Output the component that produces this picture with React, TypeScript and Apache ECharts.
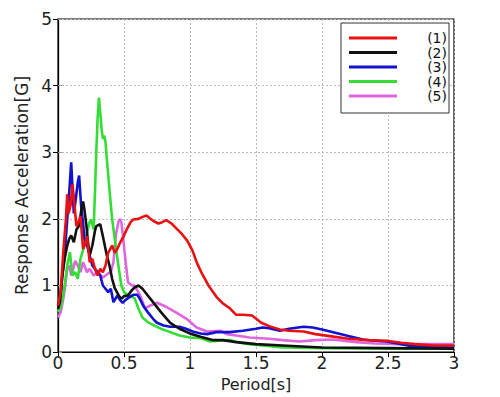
import React, { useEffect, useRef } from "react";
import * as echarts from "echarts";

const seriesNames = ["(1)", "(2)", "(3)", "(4)", "(5)"];
const seriesColors = ["#e81010", "#111111", "#1212d0", "#33dd33", "#e066e0"];

const xTicks = { min: 0, max: 3, interval: 0.5 };
const yTicks = { min: 0, max: 5, interval: 1 };

const s1: number[][] = [[0,0.7],[0.02,0.9],[0.04,1.5],[0.06,2.0],[0.07,2.37],[0.08,2.08],[0.095,2.2],[0.11,2.52],[0.125,2.2],[0.14,1.89],[0.155,1.95],[0.17,2.04],[0.19,1.55],[0.21,1.65],[0.22,1.74],[0.24,1.35],[0.26,1.4],[0.28,1.25],[0.3,1.15],[0.32,1.25],[0.34,1.2],[0.36,1.3],[0.38,1.49],[0.41,1.6],[0.43,1.49],[0.45,1.55],[0.47,1.64],[0.5,1.75],[0.52,1.84],[0.55,1.95],[0.57,1.99],[0.61,2.0],[0.64,2.03],[0.67,2.05],[0.7,2.0],[0.73,1.96],[0.76,1.93],[0.79,1.95],[0.82,1.98],[0.86,1.93],[0.9,1.85],[0.94,1.77],[0.98,1.67],[1.02,1.52],[1.05,1.35],[1.09,1.18],[1.14,1.0],[1.2,0.83],[1.25,0.73],[1.3,0.66],[1.35,0.56],[1.4,0.56],[1.47,0.55],[1.54,0.44],[1.6,0.39],[1.68,0.34],[1.75,0.32],[1.86,0.31],[1.95,0.27],[2.06,0.24],[2.2,0.2],[2.35,0.18],[2.49,0.17],[2.6,0.14],[2.7,0.12],[2.85,0.1],[3.0,0.1]];
const s2: number[][] = [[0,0.65],[0.015,0.75],[0.03,1.1],[0.05,1.4],[0.07,1.6],[0.085,1.7],[0.1,1.75],[0.12,1.65],[0.14,1.84],[0.16,1.9],[0.18,2.18],[0.19,2.26],[0.2,2.14],[0.215,1.9],[0.23,1.6],[0.24,1.45],[0.26,1.6],[0.28,1.82],[0.29,1.89],[0.32,1.92],[0.34,1.74],[0.37,1.45],[0.39,1.3],[0.41,1.1],[0.43,0.96],[0.46,0.85],[0.48,0.8],[0.5,0.84],[0.53,0.85],[0.56,0.93],[0.58,0.97],[0.61,1.0],[0.64,0.95],[0.68,0.85],[0.72,0.75],[0.78,0.6],[0.85,0.44],[0.92,0.35],[1.01,0.27],[1.08,0.23],[1.17,0.18],[1.25,0.18],[1.35,0.15],[1.5,0.12],[1.7,0.1],[2.0,0.07],[2.5,0.06],[3.0,0.05]];
const s3: number[][] = [[0,0.7],[0.02,0.85],[0.035,1.2],[0.05,1.45],[0.07,2.0],[0.085,2.4],[0.1,2.85],[0.11,2.45],[0.12,2.08],[0.135,2.3],[0.15,2.55],[0.16,2.65],[0.175,2.2],[0.19,1.93],[0.2,1.7],[0.22,1.6],[0.24,1.45],[0.26,1.3],[0.28,1.25],[0.3,1.2],[0.32,1.15],[0.34,1.0],[0.36,0.95],[0.38,0.9],[0.4,0.95],[0.42,0.75],[0.45,0.85],[0.47,0.78],[0.49,0.74],[0.51,0.78],[0.53,0.81],[0.57,0.86],[0.6,0.86],[0.62,0.8],[0.65,0.68],[0.68,0.6],[0.72,0.5],[0.75,0.44],[0.8,0.4],[0.85,0.38],[0.92,0.38],[0.97,0.35],[1.02,0.31],[1.08,0.28],[1.13,0.27],[1.2,0.3],[1.3,0.3],[1.4,0.32],[1.5,0.35],[1.55,0.37],[1.6,0.36],[1.68,0.32],[1.75,0.35],[1.86,0.38],[1.93,0.37],[2.0,0.34],[2.1,0.29],[2.2,0.24],[2.31,0.19],[2.4,0.17],[2.49,0.16],[2.6,0.12],[2.67,0.09],[2.8,0.08],[3.0,0.07]];
const s4: number[][] = [[0,0.6],[0.02,0.68],[0.035,0.8],[0.05,1.0],[0.07,1.3],[0.09,1.5],[0.11,1.15],[0.13,1.2],[0.15,1.1],[0.17,1.4],[0.2,1.6],[0.22,1.8],[0.24,1.95],[0.25,1.99],[0.27,1.84],[0.28,2.4],[0.29,3.0],[0.3,3.5],[0.31,3.82],[0.32,3.6],[0.33,3.35],[0.34,3.2],[0.35,3.25],[0.36,3.15],[0.37,2.9],[0.39,2.43],[0.41,2.0],[0.43,1.7],[0.45,1.4],[0.48,1.0],[0.5,0.9],[0.53,0.86],[0.58,0.81],[0.61,0.65],[0.64,0.52],[0.68,0.45],[0.72,0.41],[0.78,0.35],[0.85,0.3],[0.92,0.25],[1.0,0.22],[1.08,0.21],[1.15,0.16],[1.22,0.17],[1.3,0.18],[1.38,0.14],[1.45,0.12],[1.55,0.1],[1.7,0.07],[2.0,0.06],[2.5,0.05],[3.0,0.05]];
const s5: number[][] = [[0,0.52],[0.02,0.6],[0.04,0.8],[0.055,1.0],[0.07,1.25],[0.085,1.3],[0.1,1.15],[0.115,1.25],[0.13,1.37],[0.15,1.3],[0.17,1.2],[0.19,1.35],[0.22,1.2],[0.24,1.25],[0.27,1.15],[0.3,1.2],[0.34,1.12],[0.38,1.18],[0.4,1.2],[0.42,1.35],[0.44,1.78],[0.46,1.97],[0.47,2.0],[0.48,1.95],[0.49,1.78],[0.51,1.4],[0.53,1.05],[0.56,1.0],[0.58,1.0],[0.6,0.93],[0.62,0.86],[0.66,0.66],[0.7,0.7],[0.75,0.74],[0.82,0.68],[0.9,0.59],[0.98,0.49],[1.05,0.37],[1.13,0.31],[1.23,0.32],[1.28,0.27],[1.35,0.25],[1.45,0.22],[1.6,0.2],[1.7,0.18],[1.83,0.16],[1.95,0.18],[2.08,0.19],[2.26,0.15],[2.4,0.13],[2.59,0.12],[2.8,0.12],[3.0,0.12]];

const allData = [s1, s2, s3, s4, s5];

const FONT = "DejaVu Sans";

export default function App() {
  const ref = useRef<HTMLDivElement>(null);
  useEffect(() => {
    if (!ref.current) return;
    const chart = echarts.init(ref.current, undefined, { renderer: "svg" });
    const gridLine = { show: true, lineStyle: { color: "#bbbbbb", type: [2, 2] as any, width: 1 } };
    chart.setOption({
      animation: false,
      backgroundColor: "#ffffff",
      grid: { left: 58, right: 46, top: 19, bottom: 39, show: true, borderColor: "#000", borderWidth: 1.2 },
      legend: {
        data: seriesNames,
        orient: "vertical",
        left: 341,
        top: 23,
        padding: [8, 2, 10, 8],
        itemGap: 0.5,
        itemWidth: 48,
        itemHeight: 3,
        icon: "rect",
        backgroundColor: "#ffffff",
        borderColor: "#333",
        borderWidth: 1,
        borderRadius: 0,
        formatter: (name: string) => "{t|" + name + "}",
        textStyle: {
          rich: {
            t: { fontFamily: FONT, fontSize: 14, color: "#111", width: 45, align: "right", lineHeight: 16.3 },
          },
        },
      },
      xAxis: [
        {
          type: "value",
          min: xTicks.min,
          max: xTicks.max,
          interval: xTicks.interval,
          position: "bottom",
          name: "Period[s]",
          nameLocation: "middle",
          nameGap: 15,
          nameTextStyle: { fontFamily: FONT, fontSize: 16, color: "#222" },
          axisLine: { lineStyle: { color: "#555", width: 1.2 } },
          axisTick: { show: false },
          axisLabel: { fontFamily: FONT, fontSize: 17, color: "#222", margin: 2, formatter: (v: number) => String(v) },
          splitLine: gridLine,
        },
        {
          type: "value",
          min: xTicks.min,
          max: xTicks.max,
          interval: xTicks.interval,
          position: "top",
          axisLine: { show: true, lineStyle: { color: "#000", width: 1.2 } },
          axisTick: { show: true, inside: true, length: 5, lineStyle: { color: "#000" } },
          axisLabel: { show: false },
          splitLine: { show: false },
        },
      ],
      yAxis: [
        {
          type: "value",
          min: yTicks.min,
          max: yTicks.max,
          interval: yTicks.interval,
          position: "left",
          name: "Response Acceleration[G]",
          nameLocation: "middle",
          nameGap: 24,
          nameTextStyle: { fontFamily: FONT, fontSize: 17, color: "#222" },
          axisLine: { show: true, lineStyle: { color: "#999", width: 1.2 } },
          axisTick: { show: true, inside: true, length: 4, lineStyle: { color: "#999" } },
          axisLabel: { fontFamily: FONT, fontSize: 17, color: "#222", margin: 6 },
          splitLine: gridLine,
        },
        {
          type: "value",
          min: yTicks.min,
          max: yTicks.max,
          interval: yTicks.interval,
          position: "right",
          axisLine: { show: true, lineStyle: { color: "#000", width: 1.2 } },
          axisTick: { show: true, inside: true, length: 5, lineStyle: { color: "#000" } },
          axisLabel: { show: false },
          splitLine: { show: false },
        },
      ],
      series: allData.map((d, i) => ({
        name: seriesNames[i],
        type: "line",
        data: d,
        xAxisIndex: 0,
        yAxisIndex: 0,
        showSymbol: false,
        symbol: "none",
        z: 10 - i,
        lineStyle: { color: seriesColors[i], width: 2.6 },
        itemStyle: { color: seriesColors[i] },
      })),
    });
    return () => chart.dispose();
  }, []);
  return <div ref={ref} style={{ position: "fixed", left: 0, top: 0, width: 500, height: 397 }} />;
}
